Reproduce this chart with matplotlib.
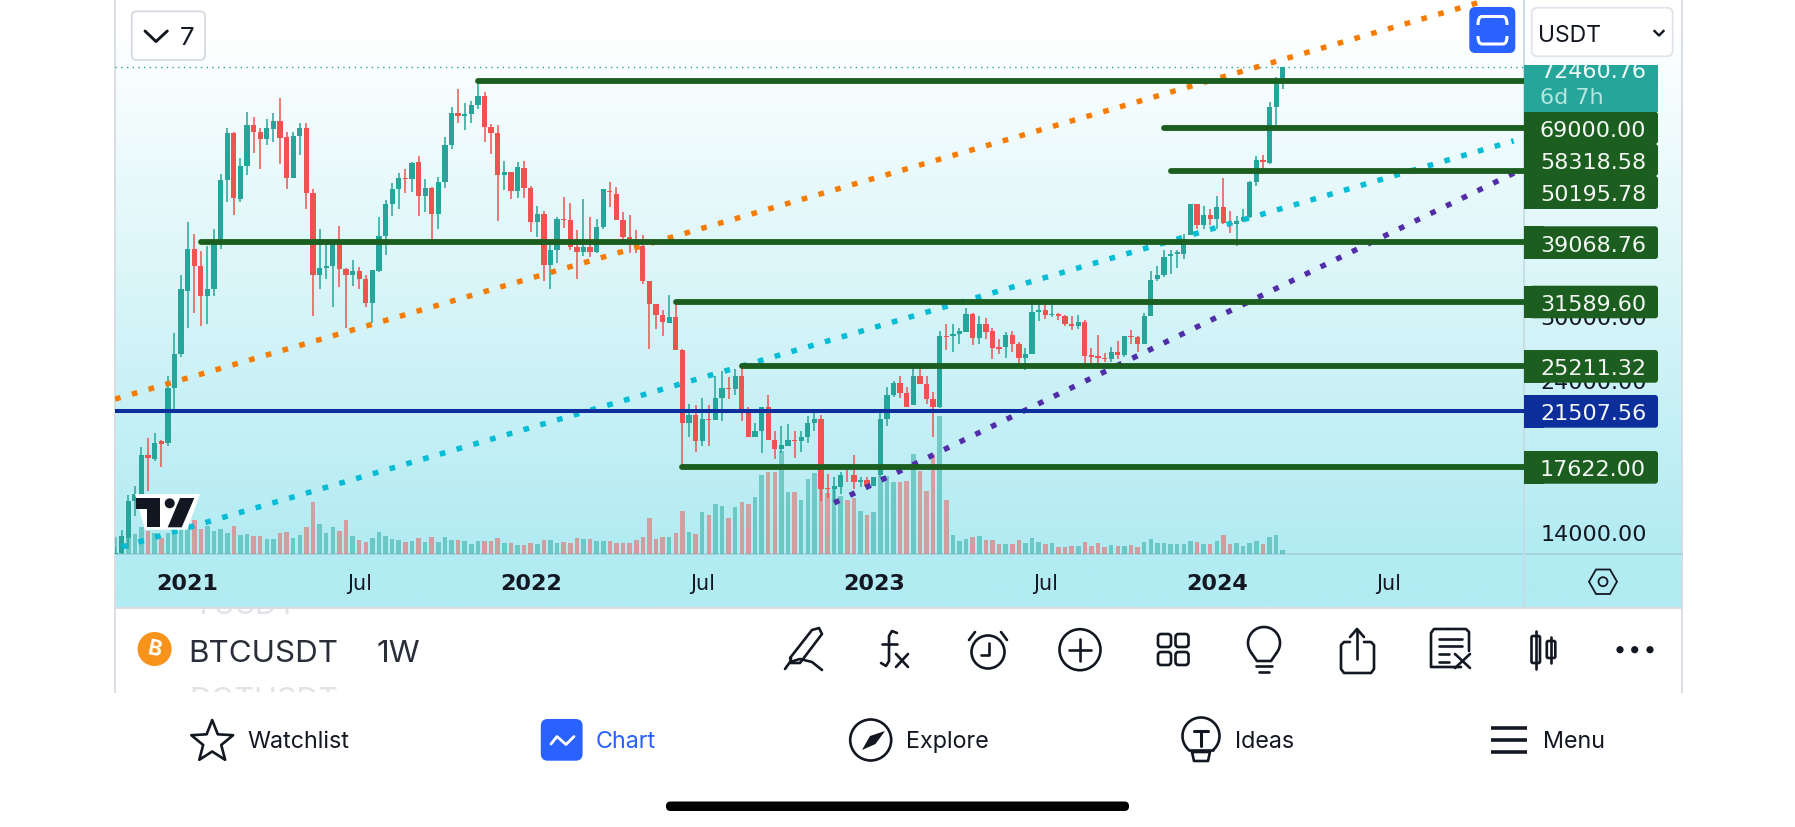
import numpy as np
import pandas as pd
import matplotlib
matplotlib.use('Agg')
import matplotlib.pyplot as plt
from matplotlib.patches import FancyBboxPatch, Rectangle, Circle, Polygon, PathPatch
from matplotlib.path import Path
from matplotlib.colors import LinearSegmentedColormap

plt.rcParams['font.family'] = ['Inter', 'DejaVu Sans']

# weekly candles BTCUSDT (thousands of USDT)
opens = [11.5, 13.0, 13.7, 15.6, 16.0, 18.4, 18.1, 19.3, 19.2, 23.3, 26.3,
         32.8, 38.1, 35.8, 32.3, 33.1, 38.9, 48.6, 57.3, 45.4, 51.0, 59.0, 57.5, 56.1, 58.2, 59.8,
         56.5, 48.9, 56.7, 58.4, 46.4, 34.7, 35.6, 35.8, 39.0, 35.5, 34.7, 35.2, 34.2, 31.5, 35.2,
         39.8, 44.6, 47.0, 49.0, 48.8, 51.8, 46.0, 47.3, 43.1, 48.2, 54.9, 61.5, 60.9, 61.3, 63.3,
         65.4, 58.7, 57.3, 49.4, 49.9, 46.7, 50.7,
         47.3, 41.9, 43.1, 36.0, 37.9, 42.4, 42.2, 38.4, 37.7, 38.4, 37.7, 41.1, 46.8, 46.3, 42.2,
         39.7, 39.4, 38.5, 34.0, 31.3, 30.2, 29.3, 29.9, 26.6, 20.6, 21.2, 19.3, 20.9, 20.8, 22.5,
         23.3, 23.2, 24.3, 21.5, 19.6, 20.0, 21.8, 19.4, 18.8, 19.0, 19.4, 19.3, 19.6, 20.6, 20.9,
         16.35, 16.3, 16.4, 17.15, 17.1, 16.7, 16.8,
         16.5, 17.1, 20.9, 22.7, 23.7, 22.9, 21.9, 24.3, 23.6, 22.4, 21.8, 28.0, 28.0, 28.2, 28.4,
         30.3, 27.8, 29.2, 28.5, 26.9, 26.9, 28.1, 27.2, 25.9, 26.3, 30.5, 30.7, 30.2, 30.3, 30.0,
         29.2, 29.0, 29.4, 26.2, 26.1, 25.9, 25.8, 26.5, 26.2, 28.0, 27.9, 27.2, 30.0, 34.2, 34.7,
         37.1, 37.4, 37.4, 40.0, 44.6, 41.4, 43.0,
         42.3, 44.2, 41.7, 41.6, 42.1, 42.6, 48.2, 52.1, 51.6, 63.0, 68.9]
highs = [13.3, 14.1, 15.96, 16.45, 18.9, 19.5, 19.9, 19.4, 24.3, 28.3, 34.7,
         41.9, 40.1, 37.8, 38.5, 40.9, 49.7, 58.4, 57.5, 52.6, 61.8, 60.7, 58.4, 60.2, 61.6, 64.9,
         57.5, 57.5, 59.5, 59.5, 47.0, 40.9, 39.5, 39.5, 41.3, 35.6, 36.6, 35.7, 34.7, 35.3, 42.6,
         45.3, 48.1, 49.8, 50.5, 51.8, 52.9, 48.8, 47.4, 49.1, 56.6, 62.9, 67.0, 63.7, 64.3, 69.0,
         66.4, 59.3, 59.1, 51.9, 50.0, 51.8, 52.0,
         47.6, 44.4, 43.5, 38.9, 42.6, 45.8, 44.8, 40.7, 45.4, 42.6, 42.4, 47.0, 48.2, 47.4, 43.4,
         43.0, 40.7, 40.0, 34.0, 31.3, 30.7, 32.4, 31.7, 26.7, 22.0, 21.9, 22.5, 21.9, 24.3, 24.7,
         24.2, 24.9, 25.2, 21.8, 20.6, 21.8, 22.7, 20.0, 20.4, 20.5, 20.0, 20.0, 21.1, 21.5, 21.2,
         17.2, 17.0, 17.3, 17.5, 18.4, 17.0, 17.0,
         17.0, 21.3, 23.4, 23.9, 24.3, 23.4, 25.3, 25.3, 24.3, 23.0, 28.5, 29.2, 29.2, 28.8, 30.9,
         30.4, 30.0, 29.8, 28.8, 27.7, 28.4, 28.5, 27.4, 26.8, 31.4, 31.4, 31.5, 31.8, 30.4, 30.1,
         30.0, 30.2, 29.6, 26.8, 28.1, 26.4, 26.9, 27.5, 28.0, 28.6, 28.0, 30.4, 35.2, 35.9, 38.0,
         38.0, 38.0, 40.2, 44.7, 44.6, 44.4, 43.9,
         45.9, 49.0, 43.6, 42.8, 43.9, 48.5, 52.8, 53.0, 64.0, 69.9, 72.46]
lows = [11.4, 12.9, 13.2, 14.8, 15.8, 16.2, 18.0, 17.6, 19.0, 21.5, 26.0,
        28.8, 30.4, 29.0, 29.2, 32.3, 38.1, 45.0, 43.0, 45.0, 49.5, 53.4, 50.5, 54.9, 55.5, 51.5,
        47.0, 48.9, 53.0, 43.8, 30.0, 33.1, 34.2, 31.0, 33.3, 28.8, 33.4, 33.0, 31.0, 29.3, 35.1,
        37.3, 42.8, 43.9, 46.4, 46.6, 42.8, 43.4, 39.5, 40.8, 47.2, 54.2, 59.5, 58.0, 59.4, 62.4,
        55.6, 53.3, 42.0, 46.9, 45.5, 45.6, 45.6,
        40.5, 39.7, 34.0, 33.0, 36.2, 41.0, 38.0, 34.3, 37.2, 37.0, 37.6, 40.8, 44.2, 42.2, 39.2,
        37.6, 37.6, 33.7, 26.7, 28.7, 28.0, 29.3, 26.6, 17.7, 19.6, 18.6, 19.0, 19.0, 20.8, 20.7,
        22.4, 22.7, 20.7, 19.6, 19.6, 18.5, 19.4, 18.1, 18.5, 19.0, 18.2, 18.6, 19.2, 20.0, 15.6,
        15.8, 15.6, 16.0, 16.7, 16.3, 16.4, 16.3,
        16.5, 17.0, 20.4, 22.6, 22.5, 21.8, 21.9, 23.6, 22.0, 19.6, 21.7, 26.6, 26.5, 27.2, 28.4,
        27.1, 27.2, 27.7, 25.8, 26.3, 25.9, 26.5, 25.4, 24.8, 26.3, 29.5, 29.7, 29.9, 29.6, 29.0,
        28.6, 28.7, 25.4, 25.4, 25.4, 25.5, 25.5, 25.8, 26.0, 27.2, 26.5, 27.2, 30.0, 34.0, 34.5,
        34.8, 35.6, 36.7, 40.0, 40.9, 40.9, 41.4,
        40.8, 41.6, 40.3, 38.5, 41.9, 42.5, 47.6, 50.6, 51.4, 59.0, 67.0]
closes = [13.0, 13.8, 15.6, 16.0, 18.4, 18.2, 19.2, 19.1, 23.3, 26.3, 33.0,
          38.1, 35.8, 32.2, 33.1, 39.2, 48.6, 57.3, 45.6, 51.0, 59.0, 57.5, 56.1, 58.4, 59.8, 56.4,
          49.0, 56.7, 58.4, 46.4, 34.7, 35.6, 35.8, 39.0, 35.5, 34.7, 35.2, 34.2, 31.5, 35.3, 39.9,
          44.6, 47.0, 49.0, 48.8, 51.6, 46.0, 47.3, 43.1, 48.2, 54.9, 61.5, 60.9, 61.3, 63.3, 65.4,
          58.6, 57.3, 49.4, 49.9, 46.7, 50.8, 47.3,
          41.9, 43.1, 36.0, 37.9, 42.4, 42.2, 38.4, 37.7, 38.4, 37.7, 41.1, 47.0, 46.5, 42.2, 39.7,
          39.4, 38.5, 34.0, 31.3, 30.2, 29.4, 29.9, 26.6, 20.6, 21.2, 19.3, 20.9, 20.8, 22.5, 23.3,
          23.2, 24.3, 21.5, 19.6, 20.0, 21.8, 19.4, 18.8, 19.05, 19.4, 19.3, 19.6, 20.6, 20.9, 16.3,
          16.3, 16.5, 17.1, 17.1, 16.7, 16.8, 16.5,
          17.0, 20.9, 22.7, 23.7, 22.9, 21.8, 24.3, 23.6, 22.4, 21.8, 28.0, 27.9, 28.2, 28.5, 30.3,
          27.8, 29.2, 28.4, 26.8, 26.7, 28.1, 27.2, 25.9, 26.3, 30.5, 30.7, 30.1, 30.3, 30.0, 29.2,
          29.0, 29.4, 26.1, 26.0, 25.9, 25.8, 26.5, 26.2, 28.0, 27.9, 27.2, 30.0, 34.1, 34.7, 37.0,
          37.4, 37.7, 39.5, 44.6, 41.4, 43.0, 42.3,
          44.2, 41.7, 41.6, 42.1, 42.6, 48.3, 52.1, 51.8, 63.0, 68.9, 72.46]
# relative volume
volumes = [50, 55, 62, 60, 80, 68, 62, 48, 62, 62, 75,
           100, 102, 75, 85, 70, 75, 62, 85, 58, 60, 55, 53, 45, 45, 63, 66, 47, 58, 80, 155, 90, 62, 80, 70, 102,
           55, 42, 37, 47, 67, 55, 45, 42, 37, 40, 48, 35, 52, 37, 50, 42, 42, 38, 30, 38, 40, 40, 47, 33, 33, 27, 27,
           33, 30, 42, 42, 33, 36, 33, 48, 44, 45, 38, 38, 38, 32, 32, 33, 42, 50, 108, 45, 50, 50, 62, 130, 66, 60,
           126, 118, 150, 143, 108, 140, 157, 150, 170, 237, 245, 245, 310, 187, 186, 161, 225, 243, 330, 183, 200,
           175, 161, 168, 130, 116,
           127, 235, 235, 216, 216, 220, 300, 248, 190, 300, 414, 161, 58, 38, 45, 51, 53, 43, 42, 30, 30, 30, 43, 33,
           48, 37, 30, 32, 22, 21, 24, 24, 37, 25, 33, 21, 27, 25, 25, 27, 22, 37, 44, 32, 34, 30, 30, 30, 40, 37, 30,
           30, 38, 56, 30, 33, 25, 33, 38, 30, 50, 56, 12]

first_week = '2020-10-19'

level_prices = [69000.00, 58318.58, 50195.78, 39068.76, 31589.60, 25211.32, 17622.00]
level_starts = ['2021-11-08', '2023-11-06', '2023-11-13', '2021-01-18', '2022-06-06', '2022-08-15', '2022-06-13']
support_price = 21507.56
last_price = 72460.76

orange_dates = ['2020-10-19', '2024-10-14']
orange_prices = [22400, 91800]
cyan_dates = ['2020-10-26', '2024-11-11']
cyan_prices = [13280, 55800]
purple_dates = ['2022-11-21', '2024-11-18']
purple_prices = [15517, 50330]

x_ticks = ['2021-01-04', '2021-07-05', '2022-01-03', '2022-07-04', '2023-01-02', '2023-07-03', '2024-01-01', '2024-07-01']
x_labels = ['2021', 'Jul', '2022', 'Jul', '2023', 'Jul', '2024', 'Jul']
y_ticks = [14000, 24000, 30000]
y_labels = ['14000.00', '24000.00', '30000.00']

TEAL = '#26a69a'
RED = '#ef5350'
GREEN = '#1b5e20'
NAVY = '#0d2f9c'
INK = '#131722'
BLUE = '#2962ff'
EDGE = '#d6dbe3'
NUM = 'DejaVu Sans'

W, H = 1795, 828
fig = plt.figure(figsize=(W / 100, H / 100), dpi=100, facecolor='white')


def pixel_axes(z):
    a = fig.add_axes([0, 0, 1, 1], zorder=z)
    a.set_xlim(0, W)
    a.set_ylim(H, 0)
    a.axis('off')
    a.patch.set_alpha(0)
    return a


bg = pixel_axes(0)
fg = pixel_axes(5)

# panel background
grad = LinearSegmentedColormap.from_list('g', [(0, '#ffffff'), (0.05, '#ffffff'), (0.91, '#b2ebf2'), (1, '#b2ebf2')])
bg.imshow(np.linspace(0, 1, 300).reshape(-1, 1), cmap=grad, aspect='auto', extent=(114.7, 1682, 608, 0), zorder=0)
bg.set_xlim(0, W)
bg.set_ylim(H, 0)
bg.plot([114.7, 114.7], [0, 693], color=EDGE, lw=1.3, zorder=1)
bg.plot([1682, 1682], [0, 693], color=EDGE, lw=1.3, zorder=1)
bg.plot([114.7, 1682], [608.7, 608.7], color='#d9dde3', lw=1.4, zorder=1)
bg.plot([114.7, 1682], [555, 555], color='#a3d2dc', lw=1.3, zorder=1)
bg.plot([1524, 1524], [0, 608], color='#c4dce3', lw=1.3, zorder=1)

# chart
left, right, bottom = 114.7, 1524, 555
rect = [left / W, 1 - bottom / H, (right - left) / W, bottom / H]
ax = fig.add_axes(rect, zorder=2)
ax.patch.set_alpha(0)
vol = fig.add_axes(rect, zorder=1)
vol.patch.set_alpha(0)

dates = pd.date_range(first_week, periods=len(opens), freq='7D')
o = np.array(opens) * 1000
h = np.array(highs) * 1000
l = np.array(lows) * 1000
c = np.array(closes) * 1000
colors = [TEAL if b >= a else RED for a, b in zip(o, c)]

vol.bar(dates, volumes, width=4.8, color=colors, alpha=0.5, linewidth=0)
vol.set_ylim(0, 1665)

ax.set_yscale('log')
ax.vlines(dates, l, h, colors=colors, lw=1.1, zorder=2)
ax.bar(dates, np.abs(c - o), bottom=np.minimum(o, c), width=5.6, color=colors, linewidth=0, zorder=3)

ax.axhline(last_price, color=TEAL, lw=1.0, ls=(0, (1, 3.1)), zorder=2)

for xs, ys, col in [(orange_dates, orange_prices, '#f57c00'), (cyan_dates, cyan_prices, '#00bcd4'),
                    (purple_dates, purple_prices, '#512da8')]:
    ax.plot(pd.to_datetime(xs), ys, color=col, lw=3.9, ls=(0, (1.05, 2.17)), dash_capstyle='butt', zorder=4)

x_end = pd.Timestamp('2024-11-22')
for price, start in zip(level_prices, level_starts):
    ax.plot([pd.Timestamp(start), x_end], [price, price], color=GREEN, lw=4.2, solid_capstyle='round', zorder=5)
ax.plot([pd.Timestamp('2020-10-01'), x_end], [support_price, support_price], color=NAVY, lw=2.9, zorder=5)

for a in (ax, vol):
    a.set_xlim(pd.Timestamp('2020-10-18 14:00'), x_end)
    for s in a.spines.values():
        s.set_visible(False)
vol.set_xticks([])
vol.set_yticks([])

ax.set_ylim(12955, 92130)
ax.yaxis.tick_right()
ax.set_yticks(y_ticks)
ax.set_yticklabels(y_labels, family=NUM)
ax.minorticks_off()
ax.tick_params(axis='y', length=0, pad=12, labelsize=16, labelcolor=INK)
ax.set_xticks(pd.to_datetime(x_ticks))
ax.set_xticklabels(x_labels, family=NUM)
ax.tick_params(axis='x', length=0, pad=14, labelsize=16, labelcolor=INK)
for t in ax.get_xticklabels():
    if t.get_text() != 'Jul':
        t.set_fontweight('bold')
    else:
        t.set_fontsize(15)


# price scale labels
def price_box(y0, y1, col):
    fg.add_patch(FancyBboxPatch((1530, y0), 128, y1 - y0, boxstyle='round,pad=0,rounding_size=3', fc=col, ec='none'))
    fg.add_patch(Rectangle((1523.5, y0), 20, y1 - y0, fc=col, ec='none'))


box_y = [(112.7, 145), (145, 177), (177, 210), (227.3, 260), (286.7, 319.3), (351, 383.7), (452, 484.7)]
for (y0, y1), price in zip(box_y, level_prices):
    price_box(y0, y1, GREEN)
    fg.text(1593, (y0 + y1) / 2, f'{price:.2f}', color='#f4f7f4', fontsize=16, family=NUM, ha='center', va='center_baseline')
price_box(396, 428.7, NAVY)
fg.text(1593, 412.3, f'{support_price:.2f}', color='#f4f7f4', fontsize=16, family=NUM, ha='center', va='center_baseline')

fg.add_patch(Rectangle((1523.5, 65.7), 134.5, 46.8, fc=TEAL, ec='none'))
t = fg.text(1593, 70.5, f'{last_price:.2f}', color='#f0faf8', fontsize=16, family=NUM, ha='center', va='center_baseline')
t.set_clip_on(True)
t.set_clip_path(Rectangle((1500, 65.7), 200, 60, transform=fg.transData))
fg.text(1539.5, 96.5, '6d 7h', color='#b5e6df', fontsize=16, family=NUM, ha='left', va='center_baseline')

# top controls
fg.add_patch(FancyBboxPatch((131.7, 12.3), 73.3, 48.7, boxstyle='round,pad=0,rounding_size=5', fc='white', ec='#d6d9e0', lw=1.3))
fg.plot([145, 156, 167.3], [32, 42.5, 32], color=INK, lw=2.1, solid_capstyle='round', solid_joinstyle='round')
fg.text(187, 36, '7', color=INK, fontsize=18.5, ha='center', va='center_baseline')

fg.add_patch(FancyBboxPatch((1469.3, 8), 46, 46, boxstyle='round,pad=0,rounding_size=6', fc=BLUE, ec='none'))
fg.add_patch(PathPatch(Path([(1478, 26), (1478, 17.5), (1482, 17.5), (1503, 17.5), (1507, 17.5), (1507, 26)],
                            [Path.MOVETO, Path.CURVE3, Path.CURVE3, Path.LINETO, Path.CURVE3, Path.CURVE3]),
                       fc='none', ec='white', lw=2.2))
fg.add_patch(PathPatch(Path([(1478, 37), (1478, 45), (1482, 45), (1503, 45), (1507, 45), (1507, 37)],
                            [Path.MOVETO, Path.CURVE3, Path.CURVE3, Path.LINETO, Path.CURVE3, Path.CURVE3]),
                       fc='none', ec='white', lw=2.2))

fg.add_patch(FancyBboxPatch((1531.7, 8.7), 141, 48.6, boxstyle='round,pad=0,rounding_size=6', fc='white', ec='#e0e3eb', lw=1.3))
fg.text(1537.5, 33, 'USDT', color=INK, fontsize=16.5, ha='left', va='center_baseline')
fg.plot([1654.5, 1659, 1663.5], [32, 36.5, 32], color=INK, lw=1.7)

# tradingview mark
fg.add_patch(Polygon([(135, 495), (200, 495), (187.3, 530.7), (145, 530.7)], fc='white', ec='none'))
fg.add_patch(Polygon([(136, 499.3), (160, 499.3), (160, 528.3), (147.3, 528.3), (147.3, 510), (136, 510)], fc=INK, ec='none'))
fg.add_patch(Circle((169.7, 504.3), 5, fc=INK, ec='none'))
fg.add_patch(Polygon([(180, 499), (194.3, 499), (181.7, 528.3), (167.7, 528.3)], fc=INK, ec='none'))

# settings hexagon
fg.add_patch(Polygon([(1589, 582.7), (1596, 570.5), (1610, 570.5), (1617, 582.7), (1610, 595), (1596, 595)],
                     closed=True, fc='none', ec=INK, lw=1.3))
fg.add_patch(Circle((1603, 582.7), 4.5, fc='none', ec=INK, lw=1.3))

# list rows peeking out behind the toolbar
t = fg.text(192, 603.5, 'YUSDT', color='#e2e3e6', fontsize=22, ha='left', va='center_baseline')
t.set_clip_on(True)
t.set_clip_path(Rectangle((120, 610), 300, 40, transform=fg.transData))
t = fg.text(189, 698.5, 'DOTUSDT', color='#e2e3e6', fontsize=22, ha='left', va='center_baseline')
t.set_clip_on(True)
t.set_clip_path(Rectangle((120, 670), 300, 23, transform=fg.transData))

# symbol row
fg.add_patch(Circle((154.6, 650), 17, fc='#f7931a', ec='none'))
fg.text(154.6, 650, 'B', color='white', fontsize=15, fontweight='bold', rotation=-12, ha='center', va='center')
fg.text(187.8, 651.5, 'BTCUSDT', color='#2a2e39', fontsize=22.6, ha='left', va='center_baseline')
fg.text(376.5, 651.5, '1W', color='#2a2e39', fontsize=22.6, ha='left', va='center_baseline')

ICON = dict(color=INK, lw=1.9, solid_capstyle='round', solid_joinstyle='round')


def icon(xs, ys, **kw):
    fg.plot(xs, ys, **{**ICON, **kw})


# pen
icon([790, 812, 819, 822, 800, 790, 791], [659, 631, 629, 635, 664, 664, 659])
icon([785, 790, 800, 812, 822], [670, 663, 660, 663, 671])
# fx
icon([897, 892, 889, 889, 886, 881], [634, 632, 637, 662, 667, 664])
icon([882, 897], [645, 645])
icon([896, 908], [655, 668])
icon([908, 896], [655, 668])
# alarm
fg.add_patch(Circle((988, 653), 16.5, fc='none', ec=INK, lw=1.9))
icon([989, 989, 981], [644, 656, 656])
icon([969, 975], [641, 633])
icon([1007, 1001], [641, 633])
# plus
fg.add_patch(Circle((1080, 650.7), 20.5, fc='none', ec=INK, lw=1.9))
icon([1069, 1091], [650.7, 650.7])
icon([1080, 1080], [640, 661.5])
# grid
for gx in (1158, 1175.5):
    for gy in (635, 653):
        fg.add_patch(FancyBboxPatch((gx, gy), 13, 13, boxstyle='round,pad=0,rounding_size=3', fc='none', ec=INK, lw=1.9))
# bulb
th = np.linspace(np.radians(-40), np.radians(220), 60)
icon(1264 + 16 * np.cos(th), 644 - 16 * np.sin(th))
icon([1276.3, 1271, 1257, 1251.7], [654.3, 662, 662, 654.3])
icon([1256, 1272], [667, 667])
icon([1259, 1269], [673, 673])
# share
icon([1350, 1344, 1341, 1341, 1344, 1371, 1374, 1374, 1371, 1364],
     [643, 643, 646, 670, 674, 674, 670, 646, 643, 643])
icon([1357, 1357], [631, 660])
icon([1350, 1357, 1364], [638, 630, 638])
# notes
icon([1461, 1432, 1431, 1431, 1434, 1448], [668, 668, 668, 634, 630, 630])
icon([1448, 1466, 1469, 1469, 1469], [630, 630, 633, 650, 652])
icon([1439, 1462], [640, 640])
icon([1439, 1462], [647, 647])
icon([1439, 1449], [655, 655])
icon([1439, 1449], [663, 663])
icon([1455, 1470], [655, 669])
icon([1470, 1455], [655, 669])
# candle icon
icon([1535.7, 1535.7], [632, 670], lw=1.9)
fg.add_patch(FancyBboxPatch((1531.5, 637), 8.5, 27, boxstyle='round,pad=0,rounding_size=1.5', fc='white', ec=INK, lw=1.9))
icon([1551, 1551], [638, 664], lw=1.9)
fg.add_patch(FancyBboxPatch((1546.8, 642), 8.5, 17, boxstyle='round,pad=0,rounding_size=1.5', fc='white', ec=INK, lw=1.9))
# more
for mx in (1620, 1634.7, 1650):
    fg.add_patch(Circle((mx, 650.7), 3.6, fc=INK, ec='none'))

# bottom navigation
star_r = np.array([22, 9.5] * 5)
star_a = np.radians(90 + 36 * np.arange(10))
fg.add_patch(Polygon(np.c_[212.2 + star_r * np.cos(star_a), 743 - star_r * np.sin(star_a)], closed=True, fc='none', ec=INK, lw=1.9, joinstyle='round'))
fg.text(247, 740, 'Watchlist', color=INK, fontsize=16.8, ha='left', va='center_baseline')

fg.add_patch(FancyBboxPatch((540.8, 720), 41.8, 41.7, boxstyle='round,pad=0,rounding_size=7', fc=BLUE, ec='none'))
icon([551, 557, 566, 574], [745, 737.5, 745.5, 737.5], color='white', lw=2)
fg.text(596, 740, 'Chart', color=BLUE, fontsize=16.8, ha='left', va='center_baseline')

fg.add_patch(Circle((870.7, 741), 20.5, fc='none', ec=INK, lw=1.9))
fg.add_patch(Polygon([(885, 732), (875.5, 745), (862, 751), (870, 737)], fc=INK, ec='none'))
fg.text(906, 740, 'Explore', color=INK, fontsize=16.8, ha='left', va='center_baseline')

th = np.linspace(np.radians(-50), np.radians(230), 60)
icon(1201 + 18.5 * np.cos(th), 737 - 18.5 * np.sin(th))
icon([1189, 1213], [751, 751])
icon([1192, 1194, 1208, 1210, 1192], [753, 762, 762, 753, 753])
icon([1194, 1208], [732, 732], lw=2.2)
icon([1201, 1201], [732, 747], lw=2.2)
fg.text(1235.3, 740, 'Ideas', color=INK, fontsize=16.8, ha='left', va='center_baseline')

for my in (729, 741, 752.7):
    fg.plot([1491, 1526.7], [my, my], color=INK, lw=2.6, solid_capstyle='butt')
fg.text(1543, 740, 'Menu', color=INK, fontsize=16.8, ha='left', va='center_baseline')

# home indicator
fg.add_patch(FancyBboxPatch((666, 802.5), 463, 9.5, boxstyle='round,pad=0,rounding_size=4.5', fc='black', ec='none'))

assert len(opens) == len(highs) == len(lows) == len(closes) == len(volumes), (len(opens), len(highs), len(lows), len(closes), len(volumes))
fig.savefig('out.png', dpi=100)
